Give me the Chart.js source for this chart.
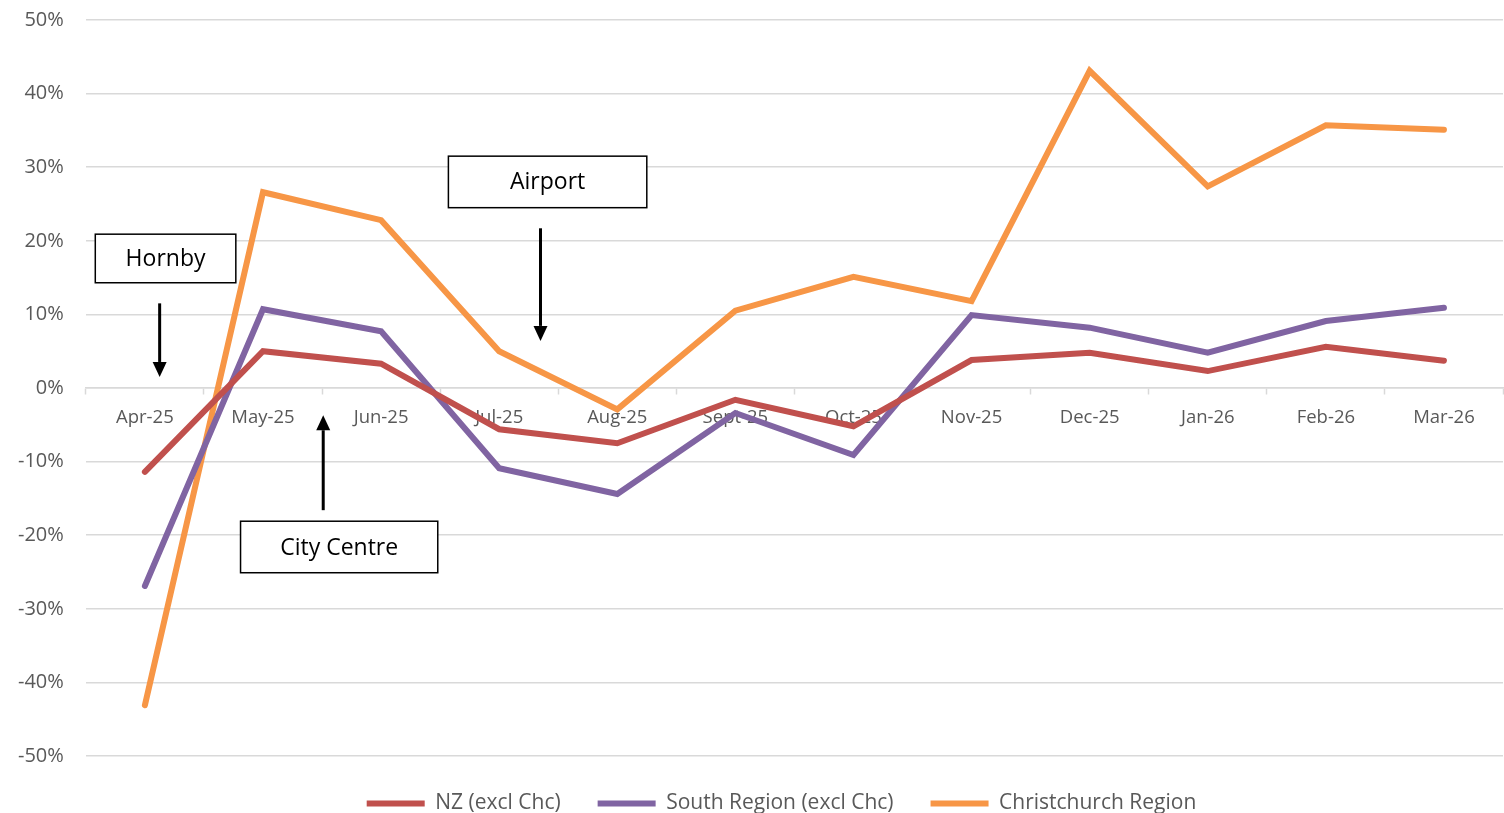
<!DOCTYPE html>
<html>
<head>
<meta charset="utf-8">
<script src="https://cdn.jsdelivr.net/npm/chart.js@4.4.1/dist/chart.umd.min.js"></script>
<style>
  html, body { margin: 0; padding: 0; background: #ffffff; }
  #wrap { width: 1504px; height: 813px; position: relative; }
</style>
</head>
<body>
<div id="wrap"><canvas id="trendChart"></canvas></div>
<script>
// Monthly categories
const months = ['Apr-25', 'May-25', 'Jun-25', 'Jul-25', 'Aug-25', 'Sept-25',
                'Oct-25', 'Nov-25', 'Dec-25', 'Jan-26', 'Feb-26', 'Mar-26'];

// Series values (%)
const nzExclChc = [-11.4, 5.0, 3.3, -5.6, -7.5, -1.6, -5.2, 3.8, 4.8, 2.3, 5.6, 3.7];
const southExclChc = [-26.9, 10.7, 7.7, -10.9, -14.4, -3.4, -9.1, 9.9, 8.2, 4.8, 9.1, 10.9];
const chchRegion = [-43.1, 26.6, 22.8, 5.0, -2.9, 10.5, 15.1, 11.8, 43.1, 27.4, 35.7, 35.1];

// Y axis ticks (%)
const yTicks = [-50, -40, -30, -20, -10, 0, 10, 20, 30, 40, 50];

// Annotation labels and where they sit (category index / % value)
const noteLabels = ['Hornby', 'Airport', 'City Centre'];
const noteBoxX = [[-0.42, 0.77], [2.57, 4.25], [0.81, 2.48]];
const noteBoxY = [[20.9, 14.3], [31.5, 24.5], [-18.1, -25.1]];
const noteArrowX = [0.125, 3.35, 1.51];
const noteArrowY = [[11.5, 1.5], [21.7, 6.4], [-16.6, -3.7]];

const FONT = '"Open Sans", "Noto Sans", sans-serif';
const grey = '#595959';

// Draw the text boxes and arrows from the annotation arrays
const notesPlugin = {
    id: 'notes',
    afterLayout(chart) {
        // legend sits a little right of centre in the original
        chart.legend.left += 64;
    },
    afterDatasetsDraw(chart) {
        const { ctx, scales: { x, y } } = chart;
        ctx.save();
        noteLabels.forEach((label, i) => {
            const x0 = x.getPixelForValue(noteBoxX[i][0]);
            const x1 = x.getPixelForValue(noteBoxX[i][1]);
            const y0 = y.getPixelForValue(noteBoxY[i][0]);
            const y1 = y.getPixelForValue(noteBoxY[i][1]);
            ctx.fillStyle = '#ffffff';
            ctx.fillRect(x0, y0, x1 - x0, y1 - y0);
            ctx.strokeStyle = '#000000';
            ctx.lineWidth = 1.5;
            ctx.strokeRect(x0, y0, x1 - x0, y1 - y0);
            ctx.fillStyle = '#000000';
            ctx.font = '23px ' + FONT;
            ctx.textAlign = 'center';
            ctx.textBaseline = 'middle';
            ctx.fillText(label, (x0 + x1) / 2, (y0 + y1) / 2 + 1);

            // arrow
            const ax = x.getPixelForValue(noteArrowX[i]);
            const ys = y.getPixelForValue(noteArrowY[i][0]);
            const ye = y.getPixelForValue(noteArrowY[i][1]);
            const dir = ye > ys ? 1 : -1;
            const head = 15;
            ctx.beginPath();
            ctx.lineWidth = 3;
            ctx.moveTo(ax, ys);
            ctx.lineTo(ax, ye - dir * head);
            ctx.stroke();
            ctx.beginPath();
            ctx.moveTo(ax, ye);
            ctx.lineTo(ax - 7, ye - dir * head);
            ctx.lineTo(ax + 7, ye - dir * head);
            ctx.closePath();
            ctx.fill();
        });
        ctx.restore();
    }
};

function series(label, data, color) {
    return {
        label: label,
        data: data,
        borderColor: color,
        backgroundColor: color,
        borderWidth: 6,
        borderCapStyle: 'round',
        borderJoinStyle: 'miter',
        pointRadius: 0,
        pointHoverRadius: 0,
        tension: 0,
        fill: false
    };
}

document.addEventListener('DOMContentLoaded', () => {
    const ctx = document.getElementById('trendChart').getContext('2d');
    new Chart(ctx, {
        type: 'line',
        data: {
            labels: months,
            datasets: [
                series('NZ (excl Chc)', nzExclChc, '#c0504d'),
                series('South Region (excl Chc)', southExclChc, '#8064a2'),
                series('Christchurch Region', chchRegion, '#f79646')
            ]
        },
        options: {
            responsive: true,
            maintainAspectRatio: false,
            animation: false,
            layout: { padding: { top: 0, left: -4, right: 1, bottom: 0 } },
            plugins: {
                legend: {
                    position: 'bottom',
                    maxHeight: 57,
                    labels: {
                        usePointStyle: true,
                        pointStyle: 'line',
                        pointStyleWidth: 58,
                        color: grey,
                        font: { family: FONT, size: 21 },
                        padding: 37
                    }
                },
                tooltip: { enabled: false }
            },
            scales: {
                x: {
                    position: { y: 0 },
                    offset: true,
                    afterFit: (s) => { s.paddingTop = 0; s.paddingBottom = 0; },
                    grid: {
                        offset: true,
                        drawOnChartArea: false,
                        drawTicks: true,
                        tickLength: 6,
                        tickColor: '#d9d9d9',
                        tickWidth: 1.5
                    },
                    border: { display: true, color: '#d9d9d9', width: 1.5 },
                    ticks: {
                        color: grey,
                        font: { family: FONT, size: 18.5 },
                        padding: 13,
                        maxRotation: 0,
                        autoSkip: false
                    }
                },
                y: {
                    min: -50,
                    max: 50,
                    afterBuildTicks: (scale) => {
                        scale.ticks = yTicks.map(v => ({ value: v }));
                    },
                    afterFit: (s) => { s.paddingTop = 20; },
                    grid: {
                        color: '#d9d9d9',
                        lineWidth: 1.5,
                        drawTicks: false
                    },
                    border: { display: false },
                    ticks: {
                        color: grey,
                        font: { family: FONT, size: 20 },
                        padding: 22,
                        callback: (v) => v + '%'
                    }
                }
            }
        },
        plugins: [notesPlugin]
    });
});
</script>
</body>
</html>
